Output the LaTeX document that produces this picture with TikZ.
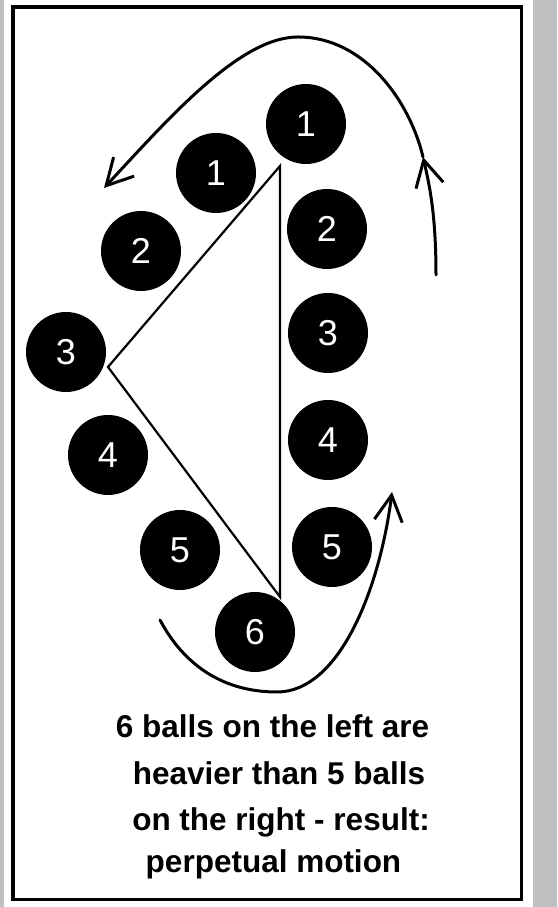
\documentclass[tikz,border=0pt]{standalone}
\usepackage{fontspec}
\setmainfont{Liberation Sans}
\usetikzlibrary{arrows.meta}
\definecolor{edgegray}{RGB}{192,192,192}
\begin{document}
\begin{tikzpicture}[x=1pt,y=1pt,>={Straight Barb[length=26pt,width=28pt]},
  ball/.style={circle,fill=black,minimum size=80pt,inner sep=0pt,text=white,
    font=\fontsize{36}{36}\selectfont},
  caption/.style={anchor=base,font=\bfseries\fontsize{31.5}{45}\selectfont},
  flow/.style={line width=3pt,line cap=round,line join=round}]
  \useasboundingbox (0,0) rectangle (557,907);
  \fill[edgegray] (0,0) rectangle (557,907);
  \fill[white] (4,0) rectangle (533,907);
  \draw[line width=3.5pt] (13,7.5) rectangle (521.5,900);
  % balls
  \foreach \n/\t/\x/\y in {t1/1/306/783, l1/1/216/734, l2/2/141/656, l3/3/66/555,
      l4/4/108/452, l5/5/180/357, b6/6/255/275,
      r2/2/327/678, r3/3/328/574, r4/4/328/467, r5/5/332/360}
    \node[ball] (\n) at (\x,\y) {\t};
  % lever
  \coordinate (apex) at (280,741);
  \coordinate (pivot) at (108,540);
  \coordinate (foot) at (280,310);
  \draw[line width=2.2pt] (apex) -- (pivot) -- (foot) -- cycle;
  % motion arrows
  \coordinate (upstart) at (436,632);
  \coordinate (upmid) at (423,750);
  \coordinate (uptop) at (298,870);
  \coordinate (upend) at (104,719);
  \draw[flow,->] (upstart) .. controls (436,690) and (430,720) .. (upmid);
  \draw[flow,->] (upmid) .. controls (410,805) and (365,870) .. (uptop)
    .. controls (240,870) and (170,790) .. (upend);
  \coordinate (lowstart) at (160,287);
  \coordinate (lowbot) at (277,215);
  \coordinate (lowend) at (392,415);
  \draw[flow,->] (lowstart) .. controls (185,240) and (225,215) .. (lowbot)
    .. controls (340,215) and (380,320) .. (lowend);
  % caption
  \foreach \txt/\x/\y [count=\i] in {6 balls on the left are/272.5/169,
      heavier than 5 balls/279/122, on the right - result:/281/76,
      perpetual motion/273.5/34}
    \node[caption] (cap\i) at (\x,\y) {\txt};
\end{tikzpicture}
\end{document}
